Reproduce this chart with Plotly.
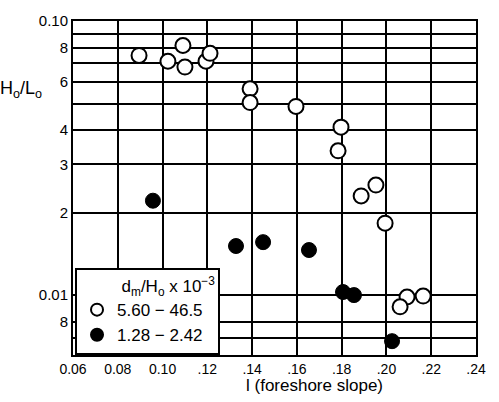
import plotly.graph_objects as go

# Data
open_x = [0.0895, 0.1024, 0.1091, 0.1100, 0.1194, 0.1212, 0.1391, 0.1391, 0.1596,
          0.1797, 0.1784, 0.1887, 0.1953, 0.1994, 0.2092, 0.2061, 0.2164]
open_y = [0.0749, 0.0713, 0.0814, 0.0679, 0.0713, 0.0762, 0.0566, 0.0504, 0.0488,
          0.0410, 0.0336, 0.0230, 0.0252, 0.0183, 0.00984, 0.00906, 0.00992]
filled_x = [0.0957, 0.1328, 0.1449, 0.1654, 0.1806, 0.1855, 0.2025]
filled_y = [0.0221, 0.0151, 0.0156, 0.0146, 0.01026, 0.0100, 0.00679]

open_label = "5.60 \u2212 46.5"
filled_label = "1.28 \u2212 2.42"
legend_title = "\u2003\u2003\u2002d<sub>m</sub>/H<sub>o</sub> x 10<sup>\u22123</sup>"

x_ticks = [0.06, 0.08, 0.10, 0.12, 0.14, 0.16, 0.18, 0.20, 0.22, 0.24]
x_ticktext = ["0.06", "0.08", "0.10", ".12", ".14", ".16", ".18", ".20", ".22", ".24"]
y_ticks = [0.007, 0.008, 0.01, 0.02, 0.03, 0.04, 0.05, 0.06, 0.07, 0.08, 0.09, 0.10]
y_ticktext = ["", "8", "0.01", "2", "3", "4", "", "6", "", "8", "", "0.10"]

FONT = "Liberation Sans"

fig = go.Figure()
fig.add_trace(go.Scatter(
    x=open_x, y=open_y, mode="markers", name=open_label,
    marker=dict(symbol="circle", size=15, color="white",
                line=dict(color="black", width=2)),
))
fig.add_trace(go.Scatter(
    x=filled_x, y=filled_y, mode="markers", name=filled_label,
    marker=dict(symbol="circle", size=15, color="black",
                line=dict(color="black", width=1)),
))

fig.update_layout(
    width=499, height=402,
    margin=dict(l=73, r=23, t=15, b=47),
    paper_bgcolor="white", plot_bgcolor="white",
    font=dict(family=FONT, size=14, color="black"),
    showlegend=True,
    legend=dict(
        x=0.005, y=0.0, xanchor="left", yanchor="bottom",
        bgcolor="white", bordercolor="black", borderwidth=2,
        font=dict(size=17, family=FONT, color="black"),
        title=dict(text=legend_title, font=dict(size=17, family=FONT)),
        itemsizing="constant", tracegroupgap=0,
    ),
    xaxis=dict(
        range=[0.06, 0.24], tickvals=x_ticks, ticktext=x_ticktext,
        showgrid=True, gridcolor="black", gridwidth=1.5,
        showline=True, linecolor="black", linewidth=2, mirror=True,
        zeroline=False, ticks="", tickfont=dict(size=14, family=FONT),
    ),
    yaxis=dict(
        type="log", range=[-2.2186, -1.0], tickvals=y_ticks, ticktext=y_ticktext,
        showgrid=True, gridcolor="black", gridwidth=1.5,
        showline=True, linecolor="black", linewidth=2, mirror=True,
        zeroline=False, ticks="", tickfont=dict(size=15, family=FONT),
    ),
    annotations=[
        dict(text="l (foreshore slope)", xref="paper", yref="paper",
             x=0.6, y=-0.09, xanchor="center", yanchor="middle", showarrow=False,
             font=dict(size=17, family=FONT)),
        dict(text="H<sub>o</sub>/L<sub>o</sub>", xref="paper", yref="paper",
             x=-0.13, y=0.794, xanchor="center", yanchor="middle", showarrow=False,
             font=dict(size=18, family=FONT)),
    ],
)

fig.write_html("out.html", config={"displayModeBar": False},
               post_script="document.body.style.margin='0';document.body.style.overflow='hidden';")
